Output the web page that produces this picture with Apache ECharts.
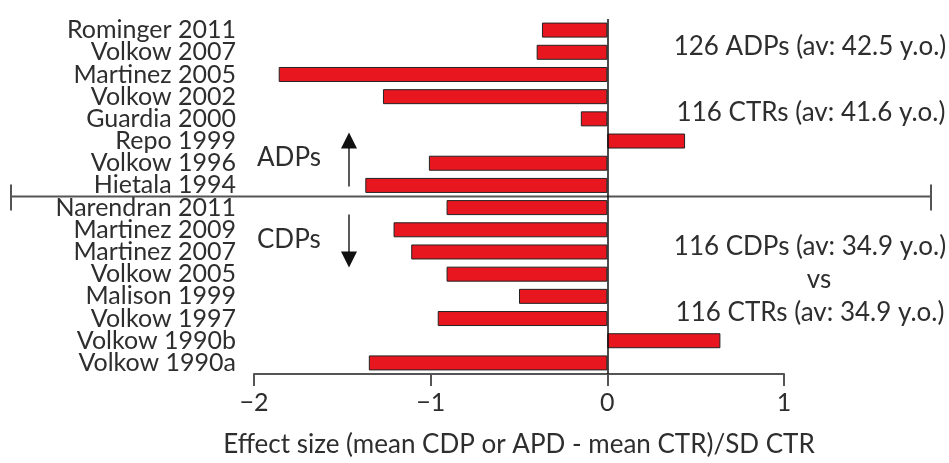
<!DOCTYPE html>
<html>
<head>
<meta charset="utf-8">
<script src="https://cdn.jsdelivr.net/npm/echarts@6/dist/echarts.min.js"></script>
<style>
html,body{margin:0;padding:0;background:#fff;}
#c{width:949px;height:463px;}
</style>
</head>
<body>
<div id="c"></div>
<script>
const categories = ["Rominger 2011","Volkow 2007","Martinez 2005","Volkow 2002","Guardia 2000","Repo 1999","Volkow 1996","Hietala 1994","Narendran 2011","Martinez 2009","Martinez 2007","Volkow 2005","Malison 1999","Volkow 1997","Volkow 1990b","Volkow 1990a"];
const effectSizes = [-0.37,-0.40,-1.86,-1.27,-0.15,0.44,-1.01,-1.37,-0.91,-1.21,-1.11,-0.91,-0.50,-0.96,0.64,-1.35];
const xTicks = [-2,-1,0,1];
const groupLabels = ["ADPs","CDPs"];
const notes = ["126 ADPs (av: 42.5 y.o.)","116 CTRs (av: 41.6 y.o.)","116 CDPs (av: 34.9 y.o.)","vs","116 CTRs (av: 34.9 y.o.)"];
const axisTitle = "Effect size (mean CDP or APD - mean CTR)/SD CTR";

const FONT = 'Lato';
const TXT = '#2e2e2e';
const chart = echarts.init(document.getElementById('c'), null, {renderer:'canvas'});
const option = {
  backgroundColor:'#fff',
  animation:false,
  grid:{left:254,right:165,top:19,bottom:88,containLabel:false},
  xAxis:{
    type:'value',min:xTicks[0],max:xTicks[xTicks.length-1],interval:1,
    axisLine:{show:true,onZero:false,lineStyle:{color:'#555',width:2}},
    axisTick:{show:true,length:12,lineStyle:{color:'#555',width:2}},
    splitLine:{show:false},
    axisLabel:{fontFamily:FONT,fontSize:25,color:TXT,margin:16,
      formatter:v=>String(v).replace('-','\u2212')},
    name:axisTitle,nameLocation:'middle',nameGap:58,
    nameTextStyle:{fontFamily:FONT,fontSize:26,color:TXT}
  },
  yAxis:{
    type:'category',data:categories,inverse:true,
    axisLine:{show:false,onZero:false},axisTick:{show:false},
    axisLabel:{fontFamily:FONT,fontSize:25,color:TXT,margin:18,align:'right',
      interval:0,hideOverlap:false}
  },
  series:[{
    type:'bar',data:effectSizes,barWidth:15,
    itemStyle:{color:'#E8171F',borderColor:'#222',borderWidth:1},
    markLine:{silent:true,symbol:'none',label:{show:false},
      lineStyle:{color:'#111',width:1.5,type:'solid'},
      data:[{xAxis:0}]}
  }]
};
chart.setOption(option);

// annotations
const yA = chart.convertToPixel({yAxisIndex:0}, categories[7]);
const yB = chart.convertToPixel({yAxisIndex:0}, categories[8]);
const sepY = (yA+yB)/2;
const textStyle = (t,x,y,align)=>({type:'text',x:x,y:y,style:{text:t,fontFamily:FONT,fontSize:26,fill:TXT,align:align||'left',verticalAlign:'middle'}});
const arrowX = 349;
chart.setOption({graphic:[
  {type:'line',shape:{x1:10,y1:sepY,x2:932,y2:sepY},style:{stroke:'#555',lineWidth:2}},
  {type:'line',shape:{x1:11,y1:sepY-12,x2:11,y2:sepY+14},style:{stroke:'#555',lineWidth:2}},
  {type:'line',shape:{x1:931,y1:sepY-12,x2:931,y2:sepY+14},style:{stroke:'#555',lineWidth:2}},
  // up arrow
  {type:'line',shape:{x1:arrowX,y1:sepY-10,x2:arrowX,y2:sepY-52},style:{stroke:'#222',lineWidth:1.5}},
  {type:'polygon',shape:{points:[[arrowX,sepY-64],[arrowX-8,sepY-48],[arrowX+8,sepY-48]]},style:{fill:'#111'}},
  // down arrow
  {type:'line',shape:{x1:arrowX,y1:sepY+18,x2:arrowX,y2:sepY+58},style:{stroke:'#222',lineWidth:1.5}},
  {type:'polygon',shape:{points:[[arrowX,sepY+71],[arrowX-8,sepY+55],[arrowX+8,sepY+55]]},style:{fill:'#111'}},
  textStyle(groupLabels[0],257,158),
  textStyle(groupLabels[1],257,240),
  textStyle(notes[0],810,47,'center'),
  textStyle(notes[1],811,113,'center'),
  textStyle(notes[2],810,247,'center'),
  textStyle(notes[3],819,280,'center'),
  textStyle(notes[4],810,313,'center')
]});
</script>
</body>
</html>
